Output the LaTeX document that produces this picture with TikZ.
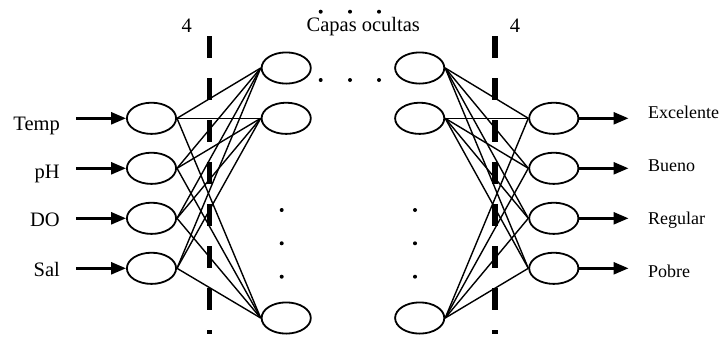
\documentclass[tikz,border=0pt]{standalone}
\usepackage{fontspec}
\setmainfont{Liberation Serif}
\usetikzlibrary{arrows.meta,shapes.geometric}
\begin{document}
\begin{tikzpicture}[x=1pt,y=-1pt,
  neuron/.style={draw,line width=1.8pt,ellipse,minimum width=49.2pt,minimum height=31.2pt,inner sep=0pt},
  conn/.style={line width=1.4pt},
  ioarrow/.style={line width=2.6pt,-{Triangle[length=15pt,width=12pt]}},
  divider/.style={line width=5.5pt,dash pattern=on 22pt off 20pt},
  inlabel/.style={font=\fontsize{20.5pt}{24pt}\selectfont,inner sep=0pt,anchor=base east},
  outlabel/.style={font=\fontsize{18pt}{22pt}\selectfont,inner sep=0pt,anchor=base west},
  toplabel/.style={font=\fontsize{20.5pt}{24pt}\selectfont,inner sep=0pt,anchor=base},
  dotn/.style={circle,fill,inner sep=0pt,minimum size=4pt}]
\useasboundingbox (0,0) rectangle (721,338);

% input neurons
\node[neuron] (i1) at (151.5,118.3) {};
\node[neuron] (i2) at (151.5,168.3) {};
\node[neuron] (i3) at (151.5,218.3) {};
\node[neuron] (i4) at (151.5,268.3) {};
% hidden left column
\node[neuron] (h1) at (286.2,68) {};
\node[neuron] (h2) at (286.2,118.3) {};
\node[neuron] (h3) at (286.2,318) {};
% hidden right column
\node[neuron] (g1) at (419.7,68) {};
\node[neuron] (g2) at (419.7,118.3) {};
\node[neuron] (g3) at (419.7,318) {};
% output neurons
\node[neuron] (o1) at (553.8,118.3) {};
\node[neuron] (o2) at (553.8,168.3) {};
\node[neuron] (o3) at (553.8,218.3) {};
\node[neuron] (o4) at (553.8,268.3) {};

% dividers
\coordinate (dla) at (209.3,36);
\coordinate (dlb) at (209.3,334);
\coordinate (dra) at (495,36);
\coordinate (drb) at (495,334);
\draw[divider] (dla) -- (dlb);
\draw[divider] (dra) -- (drb);

% connections input -> hidden
\foreach \i in {1,...,4}{
  \foreach \h in {1,2,3}{
    \draw[conn] (i\i.east) -- (h\h.west);
  }
}
% connections hidden -> output
\foreach \g in {1,2,3}{
  \foreach \o in {1,...,4}{
    \draw[conn] (g\g.east) -- (o\o.west);
  }
}

% input arrows and labels
\coordinate (ia1) at (76,118.3);
\coordinate (ia2) at (76,168.3);
\coordinate (ia3) at (76,218.3);
\coordinate (ia4) at (76,268.3);
\draw[ioarrow] (ia1) -- (i1.west);
\draw[ioarrow] (ia2) -- (i2.west);
\draw[ioarrow] (ia3) -- (i3.west);
\draw[ioarrow] (ia4) -- (i4.west);
\node[inlabel] (lt) at (60,130.5) {Temp};
\node[inlabel] (lp) at (60,178) {pH};
\node[inlabel] (ld) at (60,226.7) {DO};
\node[inlabel] (ls) at (60,276.7) {Sal};

% output arrows and labels
\coordinate (oa1) at (628.5,118.3);
\coordinate (oa2) at (628.5,168.3);
\coordinate (oa3) at (628.5,218.3);
\coordinate (oa4) at (628.5,268.3);
\draw[ioarrow] (o1.east) -- (oa1);
\draw[ioarrow] (o2.east) -- (oa2);
\draw[ioarrow] (o3.east) -- (oa3);
\draw[ioarrow] (o4.east) -- (oa4);
\node[outlabel] (le) at (648,118) {Excelente};
\node[outlabel] (lb) at (648,171) {Bueno};
\node[outlabel] (lr) at (648,224) {Regular};
\node[outlabel] (lpo) at (648,277.5) {Pobre};

% top labels
\node[toplabel] (n4l) at (186.7,32) {4};
\node[toplabel] (n4r) at (515,32) {4};
\node[toplabel] (cap) at (363.3,31.7) {Capas ocultas};

% dots
\node[dotn] (d1) at (320.7,11.7) {};
\node[dotn] (d2) at (350,11.7) {};
\node[dotn] (d3) at (379,11.7) {};
\node[dotn] (d4) at (320.7,80) {};
\node[dotn] (d5) at (350,80) {};
\node[dotn] (d6) at (379,80) {};
\node[dotn] (v1) at (281.7,210) {};
\node[dotn] (v2) at (281.7,243.3) {};
\node[dotn] (v3) at (281.7,276.7) {};
\node[dotn] (w1) at (415,210) {};
\node[dotn] (w2) at (415,243.3) {};
\node[dotn] (w3) at (415,276.7) {};
\end{tikzpicture}
\end{document}
